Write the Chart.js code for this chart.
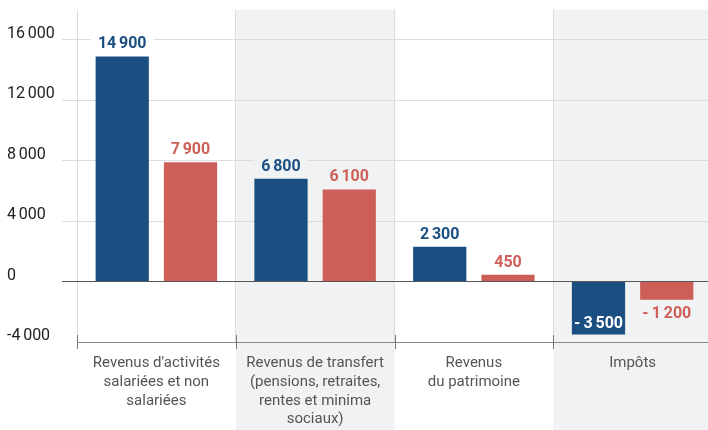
<!DOCTYPE html>
<html>
<head>
<meta charset="utf-8">
<script src="https://cdn.jsdelivr.net/npm/chart.js@4"></script>
<style>
  html, body { margin: 0; padding: 0; background: #fff; overflow: hidden; }
  #wrap { width: 712px; height: 430px; }
</style>
</head>
<body>
<div id="wrap"><canvas id="c" width="712" height="430"></canvas></div>
<script>
const categories = [
  ["Revenus d'activités", "salariées et non", "salariées"],
  ["Revenus de transfert", "(pensions, retraites,", "rentes et minima", "sociaux)"],
  ["Revenus", "du patrimoine"],
  ["Impôts"]
]
const seriesBlue = [14900, 6800, 2300, -3500]
const seriesRed = [7900, 6100, 450, -1200]
const yTicks = [-4000, 0, 4000, 8000, 12000, 16000]

const BLUE = "#1b4f82"
const RED = "#cd5f58"
const BAND = "#f1f2f4"
const shadedBands = [1, 3]

function group(v) {
  return String(Math.abs(v)).replace(/\B(?=(\d{3})+(?!\d))/g, "\u2006")
}
// value labels put a small gap after the minus sign, tick labels do not
const fmtValue = v => (v < 0 ? "-\u2009" : "") + group(v)
const fmtTick = v => (v < 0 ? "-" : "") + group(v)

// grey background behind every other category
const bands = {
  id: "bands",
  beforeDraw(chart) {
    const { ctx, chartArea } = chart
    const x = chart.scales.x
    const w = x.width / categories.length
    ctx.save()
    ctx.fillStyle = BAND
    shadedBands.forEach(i => {
      ctx.fillRect(x.left + i * w, chartArea.top, w, chart.height - chartArea.top)
    })
    ctx.restore()
  }
}

// small crosses on the bottom axis at category boundaries
const axisTicks = {
  id: "axisTicks",
  afterDraw(chart) {
    const { ctx, chartArea } = chart
    const x = chart.scales.x
    const w = x.width / categories.length
    ctx.save()
    ctx.strokeStyle = "#777"
    ctx.lineWidth = 1
    for (let i = 0; i <= categories.length; i++) {
      const px = Math.round(x.left + i * w) + 0.5
      ctx.beginPath()
      ctx.moveTo(px, chartArea.bottom - 7)
      ctx.lineTo(px, chartArea.bottom + 7)
      ctx.stroke()
    }
    ctx.restore()
  }
}

const valueLabels = {
  id: "valueLabels",
  afterDatasetsDraw(chart) {
    const ctx = chart.ctx
    ctx.save()
    ctx.font = "bold 16px Roboto"
    ctx.textAlign = "center"
    ctx.textBaseline = "middle"
    chart.data.datasets.forEach((ds, di) => {
      chart.getDatasetMeta(di).data.forEach((bar, i) => {
        const v = ds.data[i]
        const txt = fmtValue(v)
        const w = ctx.measureText(txt).width
        let y, color = ds.backgroundColor
        if (v >= 0) {
          y = bar.y - 13
          ctx.fillStyle = shadedBands.includes(i) ? BAND : "#fff"
          ctx.fillRect(bar.x - w / 2 - 7, y - 9, w + 14, 18)
        } else if (di === 0) {
          y = bar.y - 11
          color = "#fff"
        } else {
          y = bar.y + 13
        }
        ctx.fillStyle = color
        ctx.fillText(txt, bar.x, y + 1)
      })
    })
    ctx.restore()
  }
}

new Chart(document.getElementById("c"), {
  type: "bar",
  data: {
    labels: categories,
    datasets: [
      { label: "Série 1", data: seriesBlue, backgroundColor: BLUE },
      { label: "Série 2", data: seriesRed, backgroundColor: RED }
    ]
  },
  options: {
    responsive: false,
    animation: false,
    barPercentage: 0.78,
    categoryPercentage: 0.86,
    layout: { padding: { top: 9, left: 7, right: 0, bottom: 0 } },
    plugins: {
      legend: { display: false },
      tooltip: { enabled: false }
    },
    scales: {
      x: {
        offset: true,
        grid: { offset: true, color: "#dcdcdc", drawTicks: false },
        border: { color: "#888" },
        ticks: {
          padding: 12,
          color: "#555",
          font: { family: "Roboto", size: 15, lineHeight: 1.25 },
          maxRotation: 0,
          autoSkip: false
        },
        afterFit: s => { s.height = 88 }
      },
      y: {
        min: -4000,
        max: 18000,
        afterBuildTicks: s => { s.ticks = yTicks.map(v => ({ value: v })) },
        afterFit: s => { s.width = 70 },
        border: { display: false },
        grid: {
          tickLength: 15,
          color: c => c.tick && c.tick.value === 0 ? "#555" : "#dcdcdc",
          tickColor: c => c.tick && c.tick.value === -4000 ? "rgba(0,0,0,0)" : (c.tick && c.tick.value === 0 ? "#555" : "#dcdcdc")
        },
        ticks: {
          crossAlign: "far",
          labelOffset: -6,
          padding: 0,
          color: "#222",
          font: { family: "Roboto", size: 16 },
          callback: v => fmtTick(v)
        }
      }
    }
  },
  plugins: [bands, axisTicks, valueLabels]
})
</script>
</body>
</html>
